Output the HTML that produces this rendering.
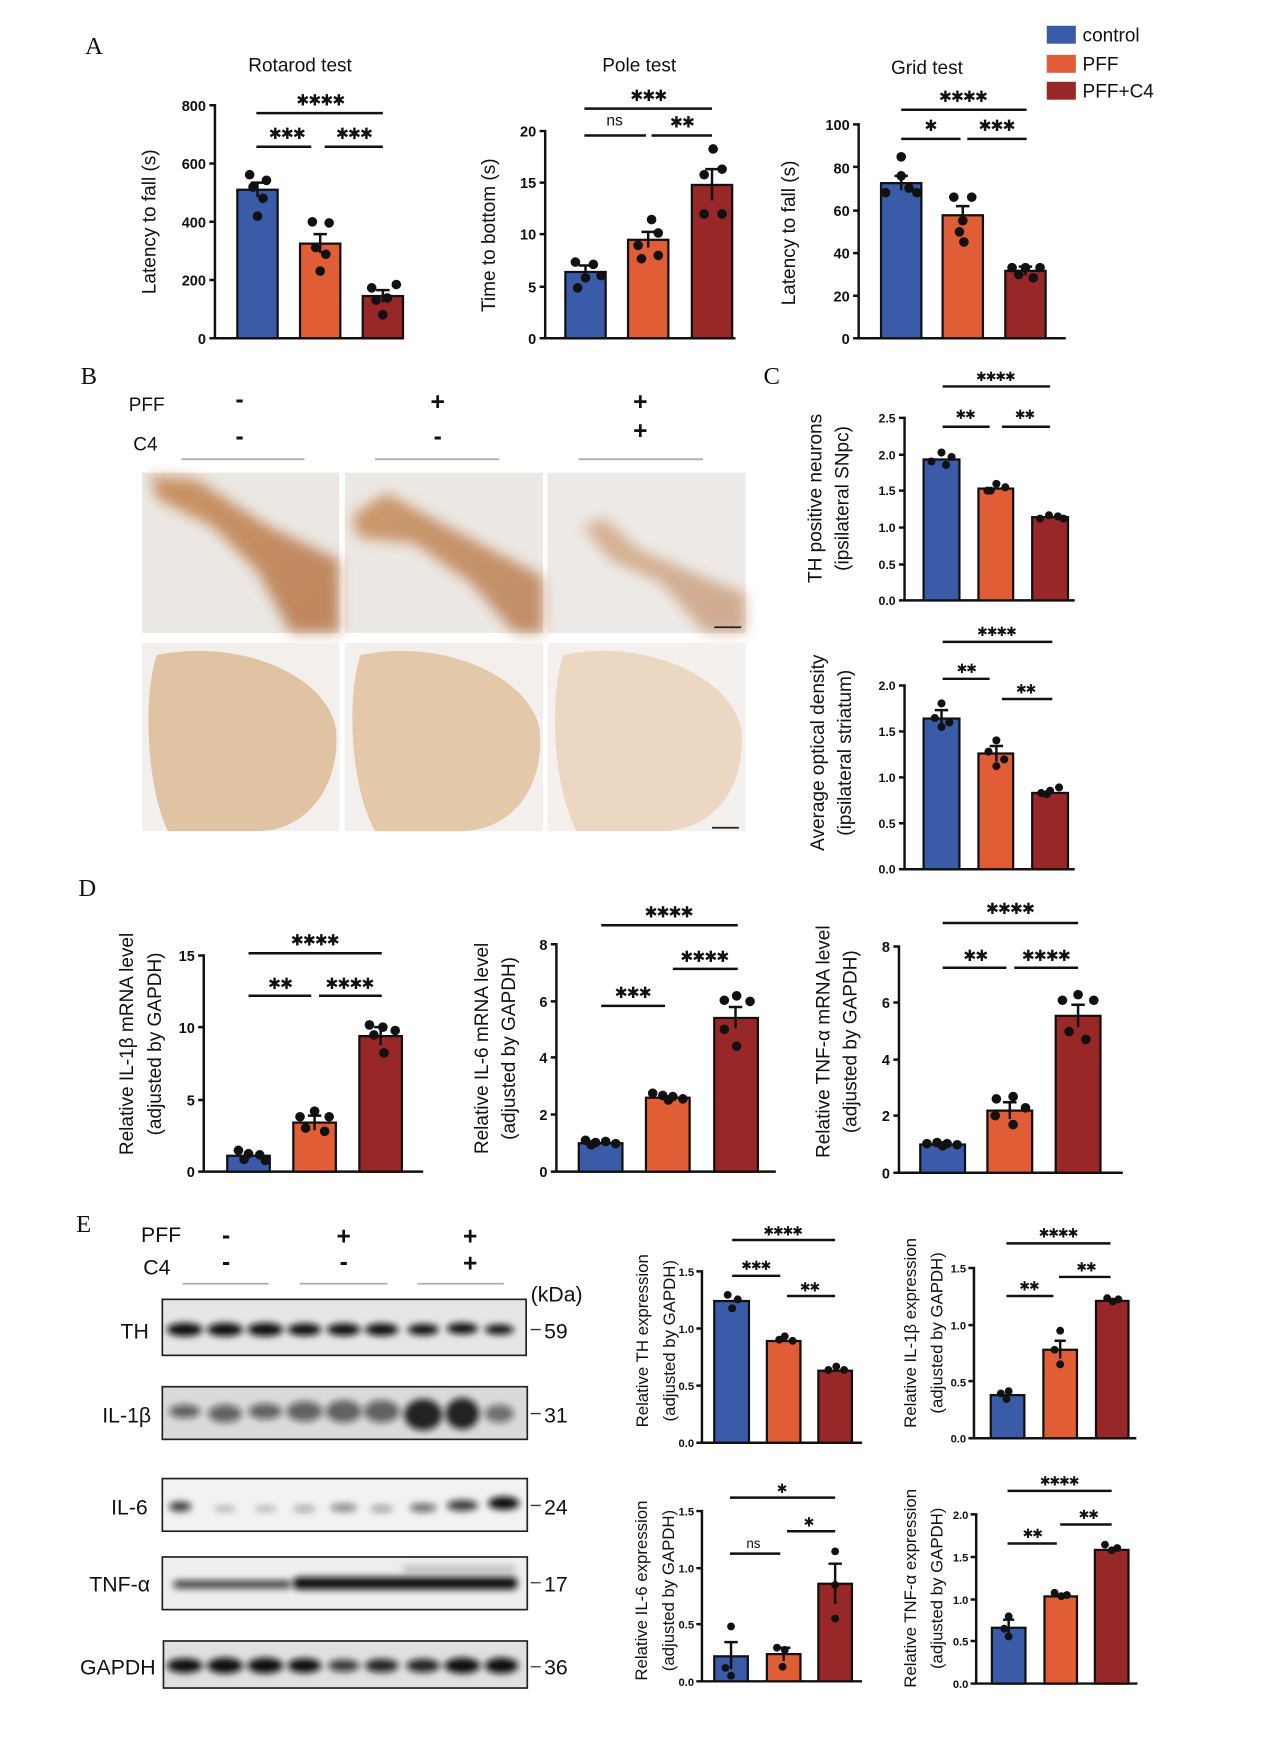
<!DOCTYPE html>
<html><head><meta charset="utf-8"><style>
html,body{margin:0;padding:0;background:#fff}
svg{display:block}
text{font-family:"Liberation Sans",sans-serif;fill:#111}
.t{font-size:17px}
.k{font-size:13px;font-weight:bold}
.ks{font-size:11px;font-weight:bold}
.kx{font-size:10px;font-weight:bold}
.s{font-family:"DejaVu Sans",sans-serif;font-size:14px;font-weight:bold;letter-spacing:-1px}
.ss{font-family:"DejaVu Sans",sans-serif;font-size:11.5px;font-weight:bold;letter-spacing:-1px}
.L{font-family:"Liberation Serif",serif;font-size:22px}
.b{fill:#3a5ba8;stroke:#111;stroke-width:2}
.o{fill:#e05d35;stroke:#111;stroke-width:2}
.d{fill:#982727;stroke:#111;stroke-width:2}
.ax{stroke:#111;stroke-width:2.2;fill:none}
.sg{stroke:#111;stroke-width:2.2}
</style></head><body>
<svg width="1274" height="1753" viewBox="0 0 1138 1565" preserveAspectRatio="none" xmlns="http://www.w3.org/2000/svg">
<defs>
<filter id="bl" x="-20%" y="-50%" width="140%" height="200%"><feGaussianBlur stdDeviation="3"/></filter>
<filter id="bl2"><feGaussianBlur stdDeviation="6"/></filter>
<linearGradient id="br" x1="0" y1="0" x2="1" y2="1"><stop offset="0" stop-color="#c07a3e" stop-opacity=".9"/><stop offset="1" stop-color="#a85a22" stop-opacity=".8"/></linearGradient>
</defs>
<rect width="1138" height="1565" fill="#fff"/>

<!-- Legend -->
<rect x="935" y="23" width="26" height="16" fill="#3a5ba8"/><text x="967" y="37" class="t">control</text>
<rect x="935" y="49" width="26" height="16" fill="#e05d35"/><text x="967" y="63" class="t">PFF</text>
<rect x="935" y="73" width="26" height="16" fill="#982727"/><text x="967" y="87" class="t">PFF+C4</text>

<text x="76" y="48" class="L">A</text>
<!-- Rotarod -->
<text x="268" y="64" class="t" text-anchor="middle">Rotarod test</text>
<g class="k" text-anchor="end"><text x="184" y="99">800</text><text x="184" y="151">600</text><text x="184" y="203">400</text><text x="184" y="255">200</text><text x="184" y="307">0</text></g>
<path class="ax" d="M187 94H192V302M187 146H192M187 198H192M187 250H192M187 302H360"/>
<text transform="translate(139,198) rotate(-90)" class="t" text-anchor="middle">Latency to fall (s)</text>
<rect class="b" x="212" y="169.4" width="36" height="132.6"/>
<rect class="o" x="268" y="217.5" width="36" height="84.5"/>
<rect class="d" x="324" y="264.3" width="36" height="37.7"/>
<path class="ax" d="M230 163V176M224 163H236M286 209V226M280 209H292M342 259V270M336 259H348"/>
<g fill="#111"><circle cx="223" cy="156" r="4.3"/><circle cx="238" cy="161" r="4.3"/><circle cx="226" cy="167" r="4.3"/><circle cx="235" cy="177" r="4.3"/><circle cx="230" cy="193" r="4.3"/>
<circle cx="279" cy="198" r="4.3"/><circle cx="294" cy="199" r="4.3"/><circle cx="282" cy="221" r="4.3"/><circle cx="291" cy="227" r="4.3"/><circle cx="286" cy="242" r="4.3"/>
<circle cx="354" cy="254" r="4.3"/><circle cx="332" cy="257" r="4.3"/><circle cx="346" cy="266" r="4.3"/><circle cx="336" cy="268" r="4.3"/><circle cx="342" cy="281" r="4.3"/></g>
<text x="286" y="94" class="s" text-anchor="middle">✱✱✱✱</text><path class="sg" d="M229 101H342"/>
<text x="256" y="124" class="s" text-anchor="middle">✱✱✱</text><path class="sg" d="M229 131H278"/>
<text x="316" y="124" class="s" text-anchor="middle">✱✱✱</text><path class="sg" d="M290 131H342"/>

<!-- Pole -->
<text x="571" y="64" class="t" text-anchor="middle">Pole test</text>
<g class="k" text-anchor="end"><text x="479" y="122">20</text><text x="479" y="168">15</text><text x="479" y="214">10</text><text x="479" y="261">5</text><text x="479" y="307">0</text></g>
<path class="ax" d="M482 117H487V302M482 163H487M482 209H487M482 256H487M482 302H657"/>
<text transform="translate(442,210) rotate(-90)" class="t" text-anchor="middle">Time to bottom (s)</text>
<rect class="b" x="505" y="242.8" width="36" height="59.2"/>
<rect class="o" x="561" y="214.1" width="36" height="87.9"/>
<rect class="d" x="618" y="165.1" width="36" height="136.9"/>
<path class="ax" d="M523 237V249M517 237H529M579 207V221M573 207H585M636 151V179M630 151H642"/>
<g fill="#111"><circle cx="514" cy="234" r="4.3"/><circle cx="530" cy="236" r="4.3"/><circle cx="537" cy="246" r="4.3"/><circle cx="523" cy="248" r="4.3"/><circle cx="516" cy="257" r="4.3"/>
<circle cx="582" cy="196" r="4.3"/><circle cx="588" cy="208" r="4.3"/><circle cx="570" cy="219" r="4.3"/><circle cx="588" cy="228" r="4.3"/><circle cx="573" cy="231" r="4.3"/>
<circle cx="637" cy="133" r="4.3"/><circle cx="645" cy="151" r="4.3"/><circle cx="629" cy="156" r="4.3"/><circle cx="629" cy="191" r="4.3"/><circle cx="645" cy="191" r="4.3"/></g>
<text x="579" y="90" class="s" text-anchor="middle">✱✱✱</text><path class="sg" d="M522 97H636"/>
<text x="549" y="112" text-anchor="middle" style="font-size:14px">ns</text><path class="sg" d="M522 121H577"/>
<text x="609" y="114" class="s" text-anchor="middle">✱✱</text><path class="sg" d="M582 121H636"/>

<!-- Grid -->
<text x="828" y="66" class="t" text-anchor="middle">Grid test</text>
<g class="k" text-anchor="end"><text x="759" y="116">100</text><text x="759" y="155">80</text><text x="759" y="193">60</text><text x="759" y="231">40</text><text x="759" y="269">20</text><text x="759" y="307">0</text></g>
<path class="ax" d="M762 111H767V302M762 149H767M762 188H767M762 226H767M762 264H767M762 302H952"/>
<text transform="translate(710,208) rotate(-90)" class="t" text-anchor="middle">Latency to fall (s)</text>
<rect class="b" x="787" y="163.5" width="36" height="138.5"/>
<rect class="o" x="842" y="192.2" width="36" height="109.8"/>
<rect class="d" x="898" y="241.8" width="36" height="60.2"/>
<path class="ax" d="M805 157V170M799 157H811M860 184V201M854 184H866M916 238V246M910 238H922"/>
<g fill="#111"><circle cx="805" cy="140" r="4.3"/><circle cx="805" cy="157" r="4.3"/><circle cx="812" cy="168" r="4.3"/><circle cx="819" cy="172" r="4.3"/><circle cx="791" cy="172" r="4.3"/>
<circle cx="852" cy="176" r="4.3"/><circle cx="868" cy="176" r="4.3"/><circle cx="860" cy="197" r="4.3"/><circle cx="857" cy="207" r="4.3"/><circle cx="861" cy="216" r="4.3"/>
<circle cx="904" cy="239" r="4.3"/><circle cx="916" cy="239" r="4.3"/><circle cx="929" cy="239" r="4.3"/><circle cx="910" cy="245" r="4.3"/><circle cx="923" cy="248" r="4.3"/></g>
<text x="860" y="91" class="s" text-anchor="middle">✱✱✱✱</text><path class="sg" d="M805 98H917"/>
<text x="831" y="117" class="s" text-anchor="middle">✱</text><path class="sg" d="M805 124H858"/>
<text x="890" y="117" class="s" text-anchor="middle">✱✱✱</text><path class="sg" d="M864 124H917"/>

<!-- B -->
<text x="72" y="343" class="L">B</text>
<text x="115" y="367" class="t">PFF</text><text x="119" y="402" class="t">C4</text>
<g text-anchor="middle" style="font-size:22px;font-weight:bold"><text x="214" y="364">-</text><text x="391" y="366">+</text><text x="572" y="366">+</text><text x="214" y="397">-</text><text x="391" y="397">-</text><text x="572" y="392">+</text></g>
<path d="M162 410H272M335 410H446M517 410H628" stroke="#aaa" stroke-width="1.5"/>
<g>
<rect x="127" y="422" width="176" height="143" fill="#ebe7e3"/>
<rect x="308" y="422" width="177" height="143" fill="#ece8e4"/>
<rect x="489" y="422" width="177" height="143" fill="#eeeae7"/>
<polygon points="135,425 175,428 240,470 303,500 303,565 260,565 230,510 190,470 140,445" fill="url(#br)" filter="url(#bl2)" opacity=".85"/>
<polygon points="315,460 345,440 400,470 485,515 485,565 460,565 420,520 370,485 320,480" fill="url(#br)" filter="url(#bl2)" opacity=".8"/>
<polygon points="520,470 540,462 570,490 640,520 666,530 666,565 630,565 590,520 545,500" fill="url(#br)" filter="url(#bl2)" opacity=".55"/>
<path d="M638 560H662" stroke="#222" stroke-width="1.5"/>
<rect x="127" y="574" width="176" height="168" fill="#f2efed"/>
<rect x="308" y="574" width="177" height="168" fill="#f2efed"/>
<rect x="489" y="574" width="177" height="168" fill="#f3f0ee"/>
<path d="M140 585 C210 570 290 600 300 650 C305 700 275 742 230 742 L150 742 C130 700 128 620 140 585Z" fill="#e0c3a3"/>
<path d="M322 585 C390 570 470 600 482 650 C487 700 460 742 410 742 L335 742 C312 700 310 620 322 585Z" fill="#e3c8aa"/>
<path d="M503 585 C570 570 650 600 662 650 C667 700 640 742 590 742 L515 742 C493 700 491 620 503 585Z" fill="#ecd8c2"/>
<path d="M636 739H660" stroke="#222" stroke-width="1.5"/>
</g>

<!-- C -->
<text x="682" y="343" class="L">C</text>
<g class="ks" text-anchor="end"><text x="800" y="377">2.5</text><text x="800" y="410">2.0</text><text x="800" y="442">1.5</text><text x="800" y="475">1.0</text><text x="800" y="508">0.5</text><text x="800" y="540">0.0</text></g>
<path class="ax" d="M803 373H808V536M803 406H808M803 438H808M803 471H808M803 504H808M803 536H960"/>
<text transform="translate(734,445) rotate(-90)" class="t" text-anchor="middle">TH positive neurons</text>
<text transform="translate(758,445) rotate(-90)" class="t" text-anchor="middle">(ipsilateral SNpc)</text>
<rect class="b" x="825" y="410.2" width="32" height="125.8"/>
<rect class="o" x="874" y="436.2" width="31" height="99.8"/>
<rect class="d" x="922" y="461.7" width="32" height="74.3"/>
<g fill="#111"><circle cx="832" cy="412" r="3.6"/><circle cx="841" cy="404" r="3.6"/><circle cx="850" cy="408" r="3.6"/><circle cx="845" cy="415" r="3.6"/>
<circle cx="882" cy="438" r="3.6"/><circle cx="890" cy="432" r="3.6"/><circle cx="898" cy="435" r="3.6"/><circle cx="885" cy="438" r="3.6"/>
<circle cx="929" cy="463" r="3.6"/><circle cx="937" cy="460" r="3.6"/><circle cx="945" cy="461" r="3.6"/><circle cx="950" cy="463" r="3.6"/></g>
<text x="889" y="340" class="ss" text-anchor="middle">✱✱✱✱</text><path class="sg" d="M842 345H938"/>
<text x="862" y="374" class="ss" text-anchor="middle">✱✱</text><path class="sg" d="M842 381H884"/>
<text x="915" y="374" class="ss" text-anchor="middle">✱✱</text><path class="sg" d="M895 381H938"/>

<g class="ks" text-anchor="end"><text x="800" y="616">2.0</text><text x="800" y="657">1.5</text><text x="800" y="698">1.0</text><text x="800" y="739">0.5</text><text x="800" y="780">0.0</text></g>
<path class="ax" d="M803 612H808V776M803 653H808M803 694H808M803 735H808M803 776H960"/>
<text transform="translate(736,672) rotate(-90)" class="t" text-anchor="middle">Average optical density</text>
<text transform="translate(760,672) rotate(-90)" class="t" text-anchor="middle">(ipsilateral striatum)</text>
<rect class="b" x="825" y="641.5" width="32" height="134.5"/>
<rect class="o" x="874" y="672.7" width="31" height="103.3"/>
<rect class="d" x="922" y="707.9" width="32" height="68.1"/>
<path class="ax" d="M841 634V649M835 634H847M890 666V680M884 666H896"/>
<g fill="#111"><circle cx="841" cy="628" r="3.6"/><circle cx="835" cy="641" r="3.6"/><circle cx="848" cy="645" r="3.6"/><circle cx="841" cy="649" r="3.6"/>
<circle cx="890" cy="661" r="3.6"/><circle cx="883" cy="671" r="3.6"/><circle cx="897" cy="678" r="3.6"/><circle cx="890" cy="684" r="3.6"/>
<circle cx="930" cy="708" r="3.6"/><circle cx="938" cy="706" r="3.6"/><circle cx="946" cy="703" r="3.6"/><circle cx="935" cy="709" r="3.6"/></g>
<text x="890" y="568" class="ss" text-anchor="middle">✱✱✱✱</text><path class="sg" d="M842 573H940"/>
<text x="863" y="601" class="ss" text-anchor="middle">✱✱</text><path class="sg" d="M842 606H884"/>
<text x="916" y="619" class="ss" text-anchor="middle">✱✱</text><path class="sg" d="M895 624H940"/>

<!-- D -->
<text x="70" y="800" class="L">D</text>
<g class="k" text-anchor="end"><text x="174" y="858">15</text><text x="174" y="922">10</text><text x="174" y="987">5</text><text x="174" y="1051">0</text></g>
<path class="ax" d="M177 853H182V1046M177 917H182M177 982H182M177 1046H378"/>
<text transform="translate(119,932) rotate(-90)" class="t" text-anchor="middle">Relative IL-1β mRNA  level</text>
<text transform="translate(144,932) rotate(-90)" class="t" text-anchor="middle">(adjusted by GAPDH)</text>
<rect class="b" x="203" y="1031.8" width="38" height="14.2"/>
<rect class="o" x="262" y="1002.2" width="38" height="43.8"/>
<rect class="d" x="321" y="925" width="38" height="121"/>
<path class="ax" d="M281 996V1009M275 996H287M340 917V933M334 917H346"/>
<g fill="#111"><circle cx="213" cy="1027" r="4.3"/><circle cx="222" cy="1030" r="4.3"/><circle cx="232" cy="1031" r="4.3"/><circle cx="218" cy="1035" r="4.3"/><circle cx="237" cy="1036" r="4.3"/>
<circle cx="268" cy="997" r="4.3"/><circle cx="281" cy="992" r="4.3"/><circle cx="294" cy="997" r="4.3"/><circle cx="273" cy="1007" r="4.3"/><circle cx="290" cy="1010" r="4.3"/>
<circle cx="330" cy="915" r="4.3"/><circle cx="342" cy="917" r="4.3"/><circle cx="353" cy="920" r="4.3"/><circle cx="334" cy="924" r="4.3"/><circle cx="343" cy="940" r="4.3"/></g>
<text x="281" y="844" class="s" text-anchor="middle">✱✱✱✱</text><path class="sg" d="M222 851H341"/>
<text x="250" y="883" class="s" text-anchor="middle">✱✱</text><path class="sg" d="M222 889H278"/>
<text x="312" y="883" class="s" text-anchor="middle">✱✱✱✱</text><path class="sg" d="M285 889H341"/>

<g class="k" text-anchor="end"><text x="489" y="848">8</text><text x="489" y="899">6</text><text x="489" y="949">4</text><text x="489" y="1000">2</text><text x="489" y="1051">0</text></g>
<path class="ax" d="M492 843H497V1046M492 894H497M492 944H497M492 995H497M492 1046H693"/>
<text transform="translate(436,936) rotate(-90)" class="t" text-anchor="middle">Relative IL-6  mRNA  level</text>
<text transform="translate(460,936) rotate(-90)" class="t" text-anchor="middle">(adjusted by GAPDH)</text>
<rect class="b" x="517" y="1020.6" width="39" height="25.4"/>
<rect class="o" x="577" y="980" width="39" height="66"/>
<rect class="d" x="638" y="908.8" width="39" height="137.2"/>
<path class="ax" d="M657 899V918M651 899H663"/>
<g fill="#111"><circle cx="523" cy="1018" r="4.3"/><circle cx="532" cy="1020" r="4.3"/><circle cx="541" cy="1019" r="4.3"/><circle cx="550" cy="1021" r="4.3"/><circle cx="528" cy="1022" r="4.3"/>
<circle cx="583" cy="976" r="4.3"/><circle cx="592" cy="978" r="4.3"/><circle cx="601" cy="979" r="4.3"/><circle cx="610" cy="981" r="4.3"/><circle cx="597" cy="982" r="4.3"/>
<circle cx="647" cy="893" r="4.3"/><circle cx="658" cy="889" r="4.3"/><circle cx="670" cy="894" r="4.3"/><circle cx="647" cy="919" r="4.3"/><circle cx="658" cy="934" r="4.3"/></g>
<text x="597" y="819" class="s" text-anchor="middle">✱✱✱✱</text><path class="sg" d="M537 826H659"/>
<text x="565" y="891" class="s" text-anchor="middle">✱✱✱</text><path class="sg" d="M537 898H594"/>
<text x="629" y="859" class="s" text-anchor="middle">✱✱✱✱</text><path class="sg" d="M601 865H659"/>

<g class="k" text-anchor="end"><text x="795" y="850">8</text><text x="795" y="900">6</text><text x="795" y="951">4</text><text x="795" y="1001">2</text><text x="795" y="1052">0</text></g>
<path class="ax" d="M798 845H803V1047M798 895H803M798 946H803M798 996H803M798 1047H1003"/>
<text transform="translate(741,930) rotate(-90)" class="t" text-anchor="middle">Relative TNF-α  mRNA  level</text>
<text transform="translate(765,930) rotate(-90)" class="t" text-anchor="middle">(adjusted by GAPDH)</text>
<rect class="b" x="822" y="1021.8" width="40" height="25.2"/>
<rect class="o" x="882" y="991.5" width="40" height="55.5"/>
<rect class="d" x="943" y="906.9" width="40" height="140.1"/>
<path class="ax" d="M902 984V999M896 984H908M963 897V917M957 897H969"/>
<g fill="#111"><circle cx="828" cy="1021" r="4.3"/><circle cx="837" cy="1020" r="4.3"/><circle cx="846" cy="1021" r="4.3"/><circle cx="855" cy="1022" r="4.3"/><circle cx="842" cy="1023" r="4.3"/>
<circle cx="890" cy="981" r="4.3"/><circle cx="905" cy="979" r="4.3"/><circle cx="916" cy="989" r="4.3"/><circle cx="889" cy="996" r="4.3"/><circle cx="905" cy="1004" r="4.3"/></g>
<g fill="#111"><circle cx="949" cy="893" r="4.3"/><circle cx="963" cy="888" r="4.3"/><circle cx="977" cy="893" r="4.3"/><circle cx="955" cy="921" r="4.3"/><circle cx="970" cy="928" r="4.3"/></g>
<text x="902" y="816" class="s" text-anchor="middle">✱✱✱✱</text><path class="sg" d="M842 824H963"/>
<text x="871" y="858" class="s" text-anchor="middle">✱✱</text><path class="sg" d="M842 864H899"/>
<text x="934" y="858" class="s" text-anchor="middle">✱✱✱✱</text><path class="sg" d="M906 864H963"/>

<!-- E -->
<text x="68" y="1100" class="L">E</text>
<text x="126" y="1109" class="t" style="font-size:19px">PFF</text><text x="128" y="1138" class="t" style="font-size:19px">C4</text>
<g text-anchor="middle" style="font-size:22px;font-weight:bold"><text x="202" y="1110">-</text><text x="307" y="1111">+</text><text x="420" y="1111">+</text><text x="202" y="1134">-</text><text x="307" y="1134">-</text><text x="420" y="1135">+</text></g>
<path d="M163 1146H240M268 1146H346M373 1146H450" stroke="#aaa" stroke-width="1.5"/>
<text x="474" y="1162" class="t" style="font-size:19px">(kDa)</text>
<g class="t" text-anchor="end" style="font-size:19px"><text x="133" y="1195">TH</text><text x="135" y="1270">IL-1β</text><text x="132" y="1352">IL-6</text><text x="134" y="1421">TNF-α</text><text x="139" y="1495">GAPDH</text></g>
<g class="t" style="font-size:19px"><text x="486" y="1195">59</text><text x="486" y="1270">31</text><text x="486" y="1352">24</text><text x="486" y="1421">17</text><text x="486" y="1495">36</text></g>
<path d="M474 1187H483M474 1262H483M474 1344H483M474 1413H483M474 1488H483" stroke="#333" stroke-width="1.2"/>
<g stroke="#222" stroke-width="1.5">
<rect x="145" y="1160" width="325" height="50" fill="#e6e6e6"/>
<rect x="145" y="1238" width="326" height="47" fill="#dadada"/>
<rect x="145" y="1320" width="326" height="47" fill="#f2f2f2"/>
<rect x="145" y="1390" width="326" height="47" fill="#eeeeee"/>
<rect x="146" y="1465" width="325" height="42" fill="#e0e0e0"/>
</g>
<g filter="url(#bl)" fill="#111">
<g><ellipse cx="165" cy="1187" rx="16" ry="6"/><ellipse cx="201" cy="1187" rx="16" ry="6"/><ellipse cx="237" cy="1187" rx="16" ry="6"/><ellipse cx="272" cy="1187" rx="15" ry="5.5"/><ellipse cx="307" cy="1187" rx="15" ry="5.5"/><ellipse cx="341" cy="1187" rx="15" ry="5.5"/><ellipse cx="378" cy="1187" rx="14" ry="5"/><ellipse cx="413" cy="1186" rx="14" ry="5"/><ellipse cx="446" cy="1187" rx="13" ry="4.5"/></g>
<g opacity=".6"><ellipse cx="165" cy="1260" rx="14" ry="6"/><ellipse cx="201" cy="1262" rx="15" ry="8"/><ellipse cx="237" cy="1260" rx="15" ry="7"/><ellipse cx="272" cy="1260" rx="16" ry="9"/><ellipse cx="307" cy="1260" rx="16" ry="10"/><ellipse cx="341" cy="1260" rx="16" ry="10"/></g>
<g opacity=".9"><ellipse cx="378" cy="1263" rx="17" ry="14"/><ellipse cx="413" cy="1262" rx="15" ry="14"/><ellipse cx="446" cy="1262" rx="13" ry="8" opacity=".6"/></g>
<g><ellipse cx="161" cy="1345" rx="10" ry="4.5" opacity=".8"/><ellipse cx="201" cy="1347" rx="10" ry="2.5" opacity=".3"/><ellipse cx="237" cy="1347" rx="10" ry="2.5" opacity=".3"/><ellipse cx="272" cy="1347" rx="10" ry="3" opacity=".35"/><ellipse cx="307" cy="1346" rx="12" ry="3.5" opacity=".5"/><ellipse cx="341" cy="1347" rx="10" ry="3" opacity=".4"/><ellipse cx="378" cy="1346" rx="12" ry="4" opacity=".6"/><ellipse cx="413" cy="1344" rx="14" ry="5" opacity=".8"/><ellipse cx="450" cy="1342" rx="14" ry="6"/></g>
<g><rect x="155" y="1411" width="105" height="7" rx="3" opacity=".8"/><rect x="262" y="1408" width="200" height="11" rx="4"/><rect x="360" y="1398" width="100" height="5" opacity=".25"/></g>
<g><ellipse cx="165" cy="1487" rx="16" ry="6.5"/><ellipse cx="201" cy="1487" rx="16" ry="7"/><ellipse cx="237" cy="1487" rx="16" ry="7"/><ellipse cx="272" cy="1487" rx="15" ry="6.5"/><ellipse cx="307" cy="1487" rx="14" ry="5.5" opacity=".8"/><ellipse cx="341" cy="1487" rx="15" ry="6" opacity=".9"/><ellipse cx="378" cy="1487" rx="15" ry="6" opacity=".9"/><ellipse cx="413" cy="1487" rx="16" ry="7"/><ellipse cx="448" cy="1487" rx="15" ry="7"/></g>
</g>

<!-- E TH -->
<g class="kx" text-anchor="end"><text x="620" y="1139">1.5</text><text x="620" y="1190">1.0</text><text x="620" y="1241">0.5</text><text x="620" y="1292">0.0</text></g>
<path class="ax" d="M622 1135H627V1288M622 1186H627M622 1237H627M622 1288H770"/>
<text transform="translate(579,1197) rotate(-90)" class="t" text-anchor="middle" style="font-size:15px">Relative TH expression</text>
<text transform="translate(603,1197) rotate(-90)" class="t" text-anchor="middle" style="font-size:15px">(adjusted by GAPDH)</text>
<rect class="b" x="638" y="1161.5" width="31" height="126.5"/>
<rect class="o" x="685" y="1197.2" width="30" height="90.8"/>
<rect class="d" x="731" y="1223.7" width="30" height="64.3"/>
<g fill="#111"><circle cx="650" cy="1156" r="3.5"/><circle cx="659" cy="1160" r="3.5"/><circle cx="654" cy="1168" r="3.5"/><circle cx="696" cy="1196" r="3.5"/><circle cx="701" cy="1193" r="3.5"/><circle cx="708" cy="1197" r="3.5"/><circle cx="740" cy="1223" r="3.5"/><circle cx="747" cy="1220" r="3.5"/><circle cx="754" cy="1223" r="3.5"/></g>
<text x="699" y="1103" class="ss" text-anchor="middle">✱✱✱✱</text><path class="sg" d="M654 1107H746"/>
<text x="675" y="1134" class="ss" text-anchor="middle">✱✱✱</text><path class="sg" d="M654 1139H697"/>
<text x="723" y="1153" class="ss" text-anchor="middle">✱✱</text><path class="sg" d="M703 1157H746"/>

<!-- E IL-1b -->
<g class="kx" text-anchor="end"><text x="863" y="1136">1.5</text><text x="863" y="1187">1.0</text><text x="863" y="1238">0.5</text><text x="863" y="1288">0.0</text></g>
<path class="ax" d="M865 1132H870V1284M865 1183H870M865 1233H870M865 1284H1015"/>
<text transform="translate(818,1190) rotate(-90)" class="t" text-anchor="middle" style="font-size:15px">Relative IL-1β expression</text>
<text transform="translate(842,1190) rotate(-90)" class="t" text-anchor="middle" style="font-size:15px">(adjusted by GAPDH)</text>
<rect class="b" x="885" y="1245.5" width="30" height="38.5"/>
<rect class="o" x="932" y="1205" width="30" height="79"/>
<rect class="d" x="979" y="1161.4" width="29" height="122.6"/>
<path class="ax" d="M947 1197V1213M942 1197H952"/>
<g fill="#111"><circle cx="894" cy="1244" r="3.5"/><circle cx="901" cy="1242" r="3.5"/><circle cx="899" cy="1249" r="3.5"/><circle cx="947" cy="1188" r="3.5"/><circle cx="942" cy="1205" r="3.5"/><circle cx="947" cy="1218" r="3.5"/><circle cx="989" cy="1159" r="3.5"/><circle cx="994" cy="1162" r="3.5"/><circle cx="999" cy="1160" r="3.5"/></g>
<text x="945" y="1105" class="ss" text-anchor="middle">✱✱✱✱</text><path class="sg" d="M899 1110H992"/>
<text x="919" y="1152" class="ss" text-anchor="middle">✱✱</text><path class="sg" d="M899 1157H941"/>
<text x="970" y="1135" class="ss" text-anchor="middle">✱✱</text><path class="sg" d="M946 1140H992"/>

<!-- E IL-6 -->
<g class="kx" text-anchor="end"><text x="620" y="1353">1.5</text><text x="620" y="1404">1.0</text><text x="620" y="1454">0.5</text><text x="620" y="1505">0.0</text></g>
<path class="ax" d="M622 1349H627V1501M622 1400H627M622 1450H627M622 1501H770"/>
<text transform="translate(578,1420) rotate(-90)" class="t" text-anchor="middle" style="font-size:15px">Relative IL-6 expression</text>
<text transform="translate(602,1420) rotate(-90)" class="t" text-anchor="middle" style="font-size:15px">(adjusted by GAPDH)</text>
<rect class="b" x="638" y="1478.7" width="30" height="22.3"/>
<rect class="o" x="685" y="1476.7" width="30" height="24.3"/>
<rect class="d" x="731" y="1413.9" width="30" height="87.1"/>
<path class="ax" d="M653 1466V1490M647 1466H659M700 1471V1483M694 1471H706M746 1396V1432M740 1396H752"/>
<g fill="#111"><circle cx="653" cy="1452" r="3.5"/><circle cx="648" cy="1489" r="3.5"/><circle cx="653" cy="1496" r="3.5"/><circle cx="694" cy="1471" r="3.5"/><circle cx="701" cy="1473" r="3.5"/><circle cx="699" cy="1488" r="3.5"/><circle cx="746" cy="1385" r="3.5"/><circle cx="746" cy="1415" r="3.5"/><circle cx="746" cy="1445" r="3.5"/></g>
<text x="698" y="1333" class="ss" text-anchor="middle">✱</text><path class="sg" d="M652 1337H746"/>
<text x="673" y="1382" text-anchor="middle" style="font-size:12px">ns</text><path class="sg" d="M652 1387H697"/>
<text x="722" y="1363" class="ss" text-anchor="middle">✱</text><path class="sg" d="M703 1367H746"/>

<!-- E TNF -->
<g class="kx" text-anchor="end"><text x="865" y="1356">2.0</text><text x="865" y="1394">1.5</text><text x="865" y="1432">1.0</text><text x="865" y="1469">0.5</text><text x="865" y="1507">0.0</text></g>
<path class="ax" d="M867 1352H872V1503M867 1390H872M867 1428H872M867 1465H872M867 1503H1016"/>
<text transform="translate(818,1418) rotate(-90)" class="t" text-anchor="middle" style="font-size:15px">Relative TNF-α expression</text>
<text transform="translate(842,1418) rotate(-90)" class="t" text-anchor="middle" style="font-size:15px">(adjusted by GAPDH)</text>
<rect class="b" x="886" y="1453.2" width="30" height="49.8"/>
<rect class="o" x="933" y="1425.2" width="29" height="77.8"/>
<rect class="d" x="978" y="1383.7" width="30" height="119.3"/>
<path class="ax" d="M901 1446V1461M896 1446H906"/>
<g fill="#111"><circle cx="901" cy="1443" r="3.5"/><circle cx="897" cy="1454" r="3.5"/><circle cx="901" cy="1461" r="3.5"/><circle cx="942" cy="1422" r="3.5"/><circle cx="948" cy="1425" r="3.5"/><circle cx="953" cy="1424" r="3.5"/><circle cx="987" cy="1379" r="3.5"/><circle cx="993" cy="1384" r="3.5"/><circle cx="998" cy="1382" r="3.5"/></g>
<text x="946" y="1326" class="ss" text-anchor="middle">✱✱✱✱</text><path class="sg" d="M900 1331H993"/>
<text x="922" y="1373" class="ss" text-anchor="middle">✱✱</text><path class="sg" d="M900 1378H944"/>
<text x="972" y="1356" class="ss" text-anchor="middle">✱✱</text><path class="sg" d="M947 1361H993"/>
</svg>
</body></html>
